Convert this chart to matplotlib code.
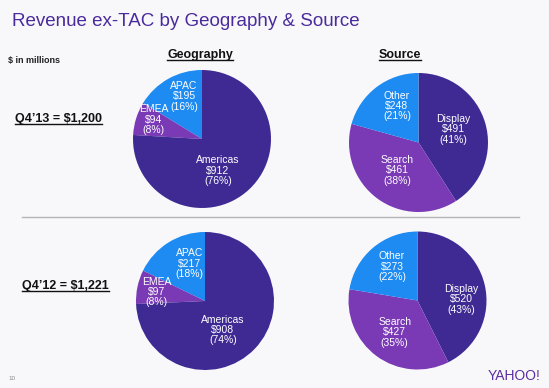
import matplotlib
matplotlib.use("Agg")
import matplotlib.pyplot as plt
from matplotlib.lines import Line2D

plt.rcParams['font.family'] = ['Liberation Sans', 'DejaVu Sans']

# data ($ in millions)
geo_labels = ['APAC', 'EMEA', 'Americas']
geo_q413 = [195, 94, 912]
geo_q413_pct = [16, 8, 76]
geo_q412 = [217, 97, 908]
geo_q412_pct = [18, 8, 74]

src_labels = ['Display', 'Search', 'Other']
src_q413 = [491, 461, 248]
src_q413_pct = [41, 38, 21]
src_q412 = [520, 427, 273]
src_q412_pct = [43, 35, 22]

dark = '#3f2a94'
purple = '#7a39b5'
blue = '#1d8bf1'
geo_colors = [blue, purple, dark]
src_colors = [dark, purple, blue]

W, H = 549, 388
fig = plt.figure(figsize=(W / 100, H / 100), dpi=100)
fig.patch.set_facecolor('#f8f8fa')


def px(x, y):
    return x / W, 1 - y / H


def pie(cx, cy, r, vals, pcts, labels, colors, counter, label_pos):
    ax = fig.add_axes([(cx - r) / W, 1 - (cy + r) / H, 2 * r / W, 2 * r / H])
    ax.pie(vals, colors=colors, startangle=90, counterclock=counter,
           radius=1, wedgeprops=dict(linewidth=0))
    ax.set_xlim(-1, 1)
    ax.set_ylim(-1, 1)
    ax.axis('off')
    for lab, v, p, (lx, ly) in zip(labels, vals, pcts, label_pos):
        ax.text(lx, ly, f'{lab}\n${v}\n({p}%)', color='white', fontsize=7.5,
                ha='center', va='center', linespacing=1.05)


pie(202, 139, 69, geo_q413, geo_q413_pct, geo_labels, geo_colors, True,
    [(-0.26, 0.62), (-0.70, 0.28), (0.23, -0.46)])
pie(418.5, 142.5, 69.5, src_q413, src_q413_pct, src_labels, src_colors, False,
    [(0.50, 0.19), (-0.31, -0.40), (-0.31, 0.525)])
pie(205, 301, 69, geo_q412, geo_q412_pct, geo_labels, geo_colors, True,
    [(-0.22, 0.54), (-0.70, 0.13), (0.26, -0.42)])
pie(417.5, 300.5, 69, src_q412, src_q412_pct, src_labels, src_colors, False,
    [(0.63, 0.02), (-0.33, -0.46), (-0.37, 0.49)])

fig.text(*px(12, 21), 'Revenue ex-TAC by Geography & Source', color='#4a2b9c',
         fontsize=13.5, ha='left', va='center')
fig.text(*px(8, 60), '$ in millions', fontsize=6.5, fontweight='bold',
         ha='left', va='center', color='#222222')

underlined = [
    fig.text(*px(200, 55), 'Geography', fontsize=9, fontweight='bold',
             ha='center', va='center', color='#111111'),
    fig.text(*px(400, 55), 'Source', fontsize=9, fontweight='bold',
             ha='center', va='center', color='#111111'),
    fig.text(*px(15, 119), "Q4\u201913 = $1,200", fontsize=9, fontweight='bold',
             ha='left', va='center', color='#111111'),
    fig.text(*px(22, 286), "Q4\u201912 = $1,221", fontsize=9, fontweight='bold',
             ha='left', va='center', color='#111111'),
]

# separator
fig.add_artist(Line2D([22 / W, 519 / W], [1 - 217 / H, 1 - 217 / H],
                      color='#b4b4b4', lw=1))

fig.text(*px(8, 378), '10', fontsize=4.5, color='#888888', ha='left', va='center')
fig.text(*px(488, 376), 'YAHOO!', fontsize=10, color='#5b2d9f', ha='left',
         va='center')

# underline the headings
fig.canvas.draw()
r = fig.canvas.get_renderer()
for t in underlined:
    bb = t.get_window_extent(renderer=r)
    y = (bb.y0 + 1) / fig.bbox.height
    fig.add_artist(Line2D([bb.x0 / fig.bbox.width, bb.x1 / fig.bbox.width],
                          [y, y], color='#111111', lw=1.0))

fig.savefig('out.png', dpi=100, facecolor=fig.get_facecolor())
